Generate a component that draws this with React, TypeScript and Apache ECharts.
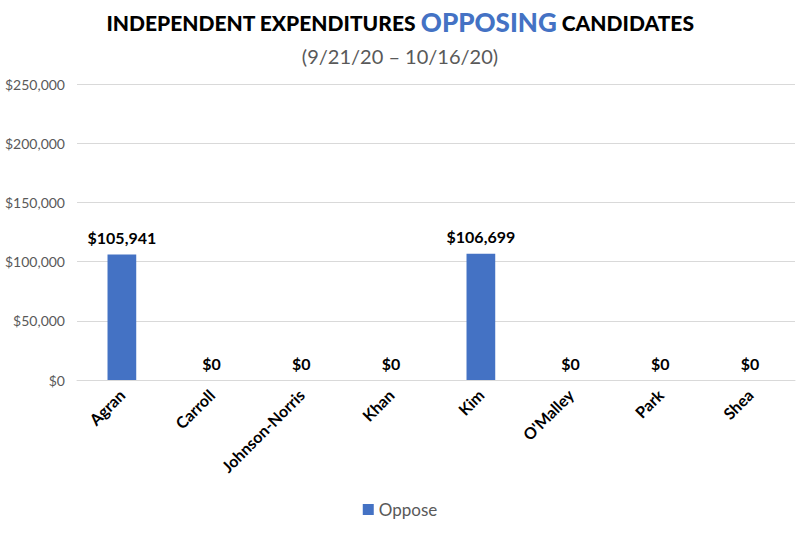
import React, { useEffect, useRef } from "react";
import * as echarts from "echarts";

const categories = ["Agran", "Carroll", "Johnson-Norris", "Khan", "Kim", "O'Malley", "Park", "Shea"];
const opposeValues = [105941, 0, 0, 0, 106699, 0, 0, 0];
const seriesName = "Oppose";

const fmt = (v: number) => "$" + v.toLocaleString("en-US");

export default function App() {
  const ref = useRef<HTMLDivElement>(null);
  useEffect(() => {
    if (!ref.current) return;
    const chart = echarts.init(ref.current, null, { renderer: "svg" });
    const font = "Lato, 'Open Sans', sans-serif";
    chart.setOption({
      animation: false,
      textStyle: { fontFamily: font },
      title: [
        {
          text: "{a|INDEPENDENT EXPENDITURES }{b|OPPOSING}{a| CANDIDATES}",
          left: "center",
          top: 4,
          textStyle: {
            rich: {
              a: { fontSize: 21, fontWeight: 900, color: "#000", fontFamily: font },
              b: { fontSize: 26, fontWeight: 900, color: "#4472C4", fontFamily: font },
            },
          },
        },
        {
          text: "(9/21/20 \u2013 10/16/20)",
          left: "center",
          top: 41,
          textStyle: { fontSize: 20, fontWeight: "normal", color: "#595959", fontFamily: font },
        },
      ],
      legend: {
        bottom: 11,
        left: "center",
        itemWidth: 11,
        itemHeight: 11,
        icon: "rect",
        textStyle: { fontSize: 17, color: "#595959", fontFamily: font },
        data: [seriesName],
      },
      grid: { left: 77, right: 5, top: 84, bottom: 154 },
      xAxis: {
        type: "category",
        data: categories,
        axisLine: { lineStyle: { color: "#d9d9d9" } },
        axisTick: { show: false },
        axisLabel: {
          rotate: 45,
          interval: 0,
          fontSize: 16,
          fontWeight: "bold",
          color: "#000",
          margin: 12,
          fontFamily: font,
        },
      },
      yAxis: {
        type: "value",
        min: 0,
        max: 250000,
        interval: 50000,
        axisLine: { show: false },
        axisTick: { show: false },
        splitLine: { lineStyle: { color: "#d9d9d9" } },
        axisLabel: {
          formatter: (v: number) => fmt(v),
          fontSize: 14,
          color: "#595959",
          margin: 12,
          fontFamily: font,
        },
      },
      series: [
        {
          name: seriesName,
          type: "bar",
          data: opposeValues,
          barWidth: "32%",
          itemStyle: { color: "#4472C4" },
          label: {
            show: true,
            position: "top",
            formatter: (p: any) => fmt(p.value),
            fontSize: 16,
            fontWeight: "bold",
            color: "#000",
            distance: 9,
            fontFamily: font,
          },
        },
      ],
    });
    return () => chart.dispose();
  }, []);
  return <div ref={ref} style={{ width: 800, height: 534, position: "absolute", left: 0, top: 0 }} />;
}
